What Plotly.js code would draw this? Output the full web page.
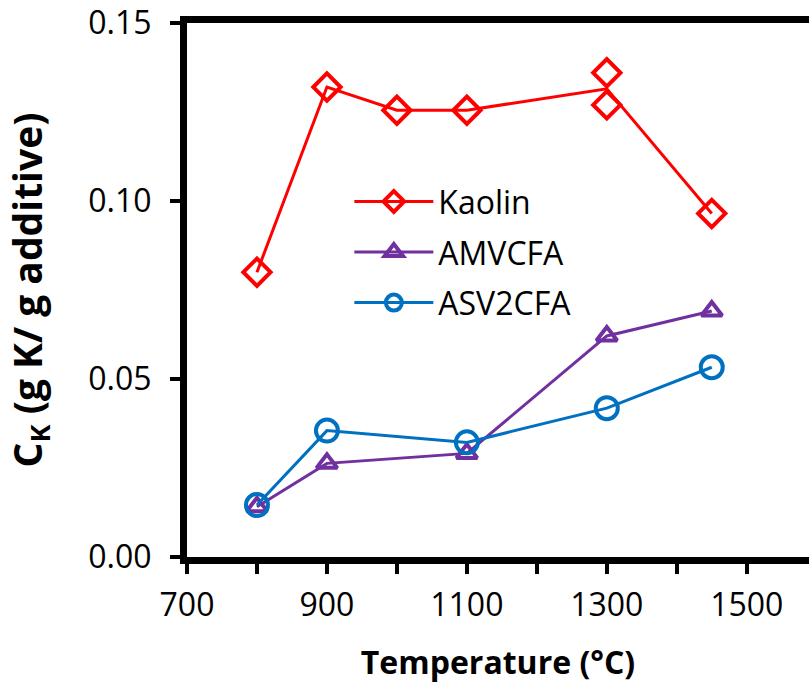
<!DOCTYPE html>
<html>
<head>
<meta charset="utf-8">
<script src="https://cdn.plot.ly/plotly-3.0.1.min.js"></script>
<style>html,body{margin:0;padding:0;background:#fff;}#chart{width:809px;height:684px;}</style>
</head>
<body>
<div id="chart"></div>
<script>
// Temperatures (°C)
const temps = [800, 900, 1000, 1100, 1300, 1450];
// Kaolin: line through averages, markers at every measured value
const kaolinLineY = [0.080, 0.132, 0.1255, 0.1255, 0.1315, 0.0965];
const kaolinPtsX = [800, 900, 1000, 1100, 1300, 1300, 1450];
const kaolinPtsY = [0.080, 0.132, 0.1255, 0.1255, 0.136, 0.127, 0.0965];
// AMVCFA
const amvTemps = [800, 900, 1100, 1300, 1450];
const amvY = [0.0141, 0.0263, 0.0291, 0.0621, 0.0691];
// ASV2CFA
const asvTemps = [800, 900, 1100, 1300, 1450];
const asvY = [0.0146, 0.0355, 0.0322, 0.0418, 0.0533];
// Tick labels
const yTickVals = [0, 0.05, 0.10, 0.15];
const yTickText = ['0.00', '0.05', '0.10', '0.15'];
const xTickVals = [700, 900, 1100, 1300, 1500];

const RED = '#FF0000', PURPLE = '#7030A0', BLUE = '#0070C0';
const FONT = 'Open Sans, Liberation Sans, sans-serif';

const traces = [
  {x: temps, y: kaolinLineY, mode: 'lines', line: {color: RED, width: 3},
   showlegend: false, hoverinfo: 'skip'},
  {x: kaolinPtsX, y: kaolinPtsY, mode: 'markers', showlegend: false,
   marker: {symbol: 'diamond-open', size: 21, color: RED, line: {color: RED, width: 4}}},
  {x: [null], y: [null], name: 'Kaolin', mode: 'lines+markers', legendgroup: 'a',
   line: {color: RED, width: 3},
   marker: {symbol: 'diamond-open', size: 21, color: RED, line: {color: RED, width: 4}}},
  {x: amvTemps, y: amvY, name: 'AMVCFA', mode: 'lines+markers', legendgroup: 'b',
   line: {color: PURPLE, width: 3},
   marker: {symbol: 'triangle-up-open', size: 18, color: PURPLE, line: {color: PURPLE, width: 4}}},
  {x: asvTemps, y: asvY, name: 'ASV2CFA', mode: 'lines+markers', legendgroup: 'c',
   line: {color: BLUE, width: 3},
   marker: {symbol: 'circle-open', size: 22, color: BLUE, line: {color: BLUE, width: 4}}}
];

const layout = {
  width: 809, height: 684,
  margin: {l: 187, r: 0, t: 23, b: 127},
  paper_bgcolor: '#fff', plot_bgcolor: '#fff',
  font: {family: FONT, size: 32, color: '#000'},
  showlegend: true,
  legend: {x: 0.261, y: 0.717, xanchor: 'left', yanchor: 'top',
           font: {family: FONT, size: 32, color: '#000'},
           bgcolor: 'rgba(0,0,0,0)', traceorder: 'grouped', tracegroupgap: 6,
           itemwidth: 79},
  xaxis: {
    range: [700, 1589], showgrid: false, zeroline: false,
    showline: true, linecolor: '#000', linewidth: 7, mirror: true,
    ticks: 'outside', ticklen: 10, tickwidth: 4, tickcolor: '#000',
    tickmode: 'array', tickvals: xTickVals, ticklabelstandoff: 4,
    minor: {dtick: 100, tick0: 700, ticks: 'outside', ticklen: 10, tickwidth: 4, tickcolor: '#000', showgrid: false},
    tickfont: {family: FONT, size: 32, color: '#000'},
    title: {text: '<b>Temperature (°C)</b>', font: {family: FONT, size: 32, color: '#000'}, standoff: 30}
  },
  yaxis: {
    range: [0, 0.15], showgrid: false, zeroline: false,
    showline: true, linecolor: '#000', linewidth: 7, mirror: false,
    ticks: 'outside', ticklen: 10, tickwidth: 4, tickcolor: '#000',
    tickmode: 'array', tickvals: yTickVals, ticktext: yTickText, ticklabelstandoff: 12,
    tickfont: {family: FONT, size: 32, color: '#000'},
    title: {text: '<b>C<sub>K</sub> (g K/ g additive)</b>', font: {family: FONT, size: 39, color: '#000'}, standoff: 36}
  }
};

Plotly.newPlot('chart', traces, layout, {staticPlot: true, displayModeBar: false});
</script>
</body>
</html>
